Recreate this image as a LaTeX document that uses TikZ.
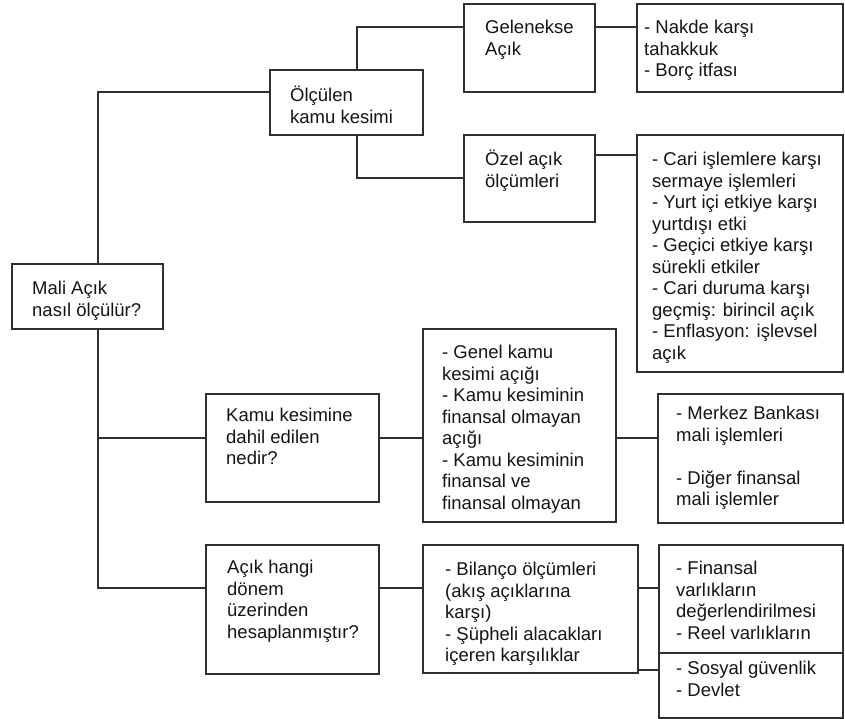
\documentclass[tikz,border=0pt]{standalone}
\usepackage{fontspec}
\setmainfont{Liberation Sans}
\usetikzlibrary{backgrounds}
\definecolor{linec}{HTML}{303030}
\definecolor{textc}{HTML}{151515}
\begin{document}
\begin{tikzpicture}[x=1pt,y=-1pt,
  box/.style={draw=linec,line width=1.9pt,fill=white,inner sep=0pt,outer sep=0pt,anchor=north west},
  txt/.style={anchor=north west,inner sep=0pt,align=left,text=textc,
    font=\fontsize{18.5}{21.5}\selectfont,execute at begin node={\rule{0pt}{18pt}}},
  conn/.style={draw=linec,line width=1.9pt}]
\useasboundingbox (0,0) rectangle (845,719);

% boxes
\node[box,minimum width=131pt,minimum height=88pt] (gel) at (464,4) {};
\node[box,minimum width=206pt,minimum height=88pt] (nakde) at (637,4) {};
\node[box,minimum width=153pt,minimum height=65pt] (olc) at (270,70) {};
\node[box,minimum width=131pt,minimum height=87pt] (ozel) at (464,135) {};
\node[box,minimum width=206pt,minimum height=237pt] (cari) at (637,135) {};
\node[box,minimum width=151pt,minimum height=65pt] (mali) at (12,264) {};
\node[box,minimum width=173pt,minimum height=108pt] (kamu) at (206,394) {};
\node[box,minimum width=193pt,minimum height=193pt] (genel) at (423,329) {};
\node[box,minimum width=185pt,minimum height=129pt] (merkez) at (658,394) {};
\node[box,minimum width=173pt,minimum height=129pt] (acik) at (206,545) {};
\node[box,minimum width=215pt,minimum height=128pt] (bil) at (423,545) {};
\node[box,minimum width=184pt,minimum height=108pt] (fin) at (659,545) {};
\node[box,minimum width=184pt,minimum height=65pt] (sos) at (659,653) {};

% texts
\node[txt] (gel-t) at ([xshift=21pt,yshift=-16pt]gel.north west) {Gelenekse\\Açık};
\node[txt] (nakde-t) at ([xshift=7pt,yshift=-16pt]nakde.north west) {- Nakde karşı\\tahakkuk\\- Borç itfası};
\node[txt] (olc-t) at ([xshift=20pt,yshift=-16pt]olc.north west) {Ölçülen\\kamu kesimi};
\node[txt] (ozel-t) at ([xshift=21pt,yshift=-15pt]ozel.north west) {Özel açık\\ölçümleri};
\node[txt] (cari-t) at ([xshift=15pt,yshift=-17pt]cari.north west) {- Cari işlemlere karşı\\sermaye işlemleri\\- Yurt içi etkiye karşı\\yurtdışı etki\\- Geçici etkiye karşı\\sürekli etkiler\\- Cari duruma karşı\\geçmiş: birincil açık\\- Enflasyon: işlevsel\\açık};
\node[txt] (mali-t) at ([xshift=20pt,yshift=-17pt]mali.north west) {Mali Açık\\nasıl ölçülür?};
\node[txt] (kamu-t) at ([xshift=20pt,yshift=-14pt]kamu.north west) {Kamu kesimine\\dahil edilen\\nedir?};
\node[txt] (genel-t) at ([xshift=19pt,yshift=-16pt]genel.north west) {- Genel kamu\\kesimi açığı\\- Kamu kesiminin\\finansal olmayan\\açığı\\- Kamu kesiminin\\finansal ve\\finansal olmayan};
\node[txt] (merkez-t) at ([xshift=18pt,yshift=-12pt]merkez.north west) {- Merkez Bankası\\mali işlemleri\\[21.5pt]- Diğer finansal\\mali işlemler};
\node[txt] (acik-t) at ([xshift=21pt,yshift=-15pt]acik.north west) {Açık hangi\\dönem\\üzerinden\\hesaplanmıştır?};
\node[txt] (bil-t) at ([xshift=22pt,yshift=-17pt]bil.north west) {- Bilanço ölçümleri\\(akış açıklarına\\karşı)\\- Şüpheli alacakları\\içeren karşılıklar};
\node[txt] (fin-t) at ([xshift=17pt,yshift=-16pt]fin.north west) {- Finansal\\varlıkların\\değerlendirilmesi\\- Reel varlıkların};
\node[txt] (sos-t) at ([xshift=17pt,yshift=-8pt]sos.north west) {- Sosyal güvenlik\\- Devlet};

% connector helper coordinates
\coordinate (tA) at (98,92);
\coordinate (tB) at (98,438);
\coordinate (tC) at (98,588);
\coordinate (oA) at (357,27);
\coordinate (oB) at (357,178);
\coordinate (c1) at (0,155);
\coordinate (s1) at (0,670);

\begin{pgfonlayer}{background}
\draw[conn] (olc.west |- tA) -- (tA) -- (tC) -- (acik.west |- tC);
\draw[conn] (tB) -- (kamu.west |- tB);
\draw[conn] (gel.west |- oA) -- (oA) -- (oB) -- (ozel.west |- oB);
\draw[conn] (gel.east |- oA) -- (nakde.west |- oA);
\draw[conn] (ozel.east |- c1) -- (cari.west |- c1);
\draw[conn] (kamu.east |- tB) -- (genel.west |- tB);
\draw[conn] (genel.east |- tB) -- (merkez.west |- tB);
\draw[conn] (acik.east |- tC) -- (bil.west |- tC);
\draw[conn] (bil.east |- tC) -- (fin.west |- tC);
\draw[conn] (bil.east |- s1) -- (sos.west |- s1);
\end{pgfonlayer}
\end{tikzpicture}
\end{document}
